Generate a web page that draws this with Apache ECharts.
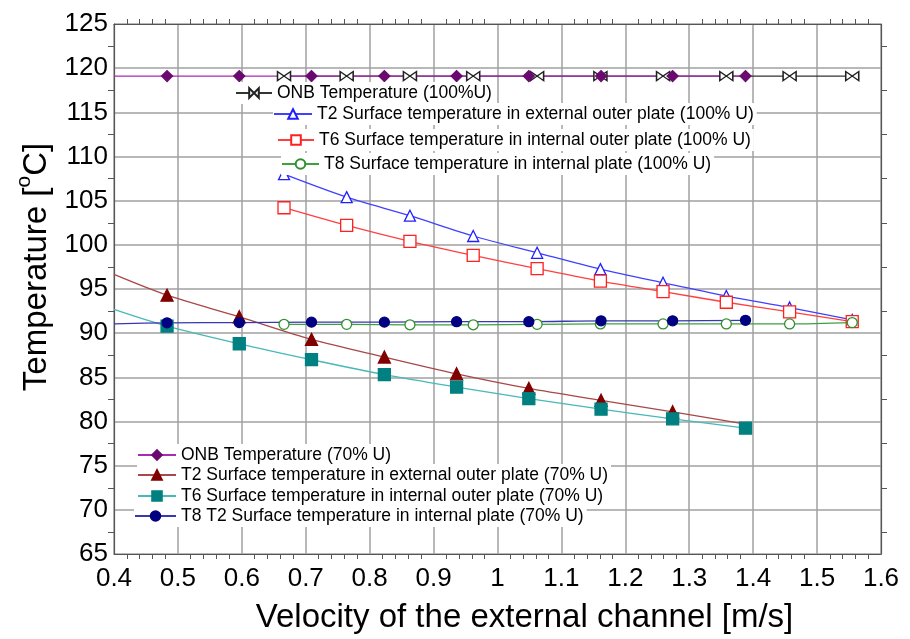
<!DOCTYPE html>
<html>
<head>
<meta charset="utf-8">
<script src="https://cdn.jsdelivr.net/npm/echarts@6/dist/echarts.min.js"></script>
<style>
  html, body { margin: 0; padding: 0; background: #fff; }
  #chart { width: 910px; height: 639px; }
</style>
</head>
<body>
<div id="chart"></div>
<script>
// velocities of the measured points [m/s]
const vel100 = [0.666, 0.764, 0.863, 0.962, 1.062, 1.161, 1.259, 1.358, 1.457, 1.555]
const vel70 = [0.483, 0.596, 0.709, 0.823, 0.936, 1.049, 1.162, 1.274, 1.388]

// 100% U
const onb100 = [119.1, 119.1, 119.1, 119.1, 119.1, 119.1, 119.1, 119.1, 119.1, 119.1]
const t2_100 = [108.0, 105.4, 103.3, 101.0, 99.1, 97.25, 95.7, 94.2, 92.9, 91.5]
const t6_100 = [104.2, 102.2, 100.4, 98.8, 97.3, 95.9, 94.7, 93.5, 92.4, 91.3]
const t8_100 = [91.0, 91.0, 90.95, 90.95, 91.0, 91.05, 91.05, 91.05, 91.05, 91.2]

// 70% U
const onb70 = [119.1, 119.1, 119.1, 119.1, 119.1, 119.1, 119.1, 119.1, 119.1]
const t2_70 = [94.3, 91.85, 89.3, 87.3, 85.4, 83.75, 82.4, 81.1, 79.7]
const t6_70 = [90.8, 88.8, 87.0, 85.3, 83.9, 82.6, 81.4, 80.3, 79.25]
const t8_70 = [91.17, 91.2, 91.25, 91.25, 91.3, 91.3, 91.4, 91.4, 91.45]
// fitted curves of the 70% series start at the left axis (0.4 m/s)
const start70 = { onb: 119.1, t2: 96.65, t6: 92.7, t8: 91.05 }

const names = [
  'ONB Temperature (100%U)',
  'T2 Surface temperature in external outer plate (100% U)',
  'T6 Surface temperature in internal outer plate (100% U)',
  'T8 Surface temperature in internal plate (100% U)',
  'ONB Temperature (70% U)',
  'T2 Surface temperature in external outer plate (70% U)',
  'T6 Surface temperature in internal outer plate (70% U)',
  'T8 T2 Surface temperature in internal plate (70% U)'
]

const axisFont = "'Liberation Sans', Arial, sans-serif"
const textFont = "'Liberation Sans', Arial, sans-serif"

function pts(xs, ys, start) {
  const out = xs.map((x, i) => [x, ys[i]])
  if (start !== undefined) out.unshift({ value: [0.4, start], symbol: 'none' })
  return out
}

const bowtie = 'path://M0,0 L0,10 L10,5 Z M20,0 L20,10 L10,5 Z'

function line(name, data, lineColor, symbol, size, fill, stroke) {
  return {
    type: 'line',
    name: name,
    data: data,
    smooth: 0.3,
    symbol: symbol,
    symbolSize: size,
    showAllSymbol: true,
    lineStyle: { color: lineColor, width: 1.3 },
    itemStyle: { color: fill, borderColor: stroke, borderWidth: 1.3 },
    emphasis: { disabled: true },
    z: 3
  }
}

const t2last = pts(vel70, t2_70, start70.t2)
t2last[t2last.length - 1] = { value: t2last[t2last.length - 1], symbol: 'none' }

const series = [
  line(names[0], pts(vel100, onb100), '#333', bowtie, [13, 9], '#fff', '#222'),
  line(names[1], pts(vel100, t2_100), '#4040ff', 'triangle', 11, '#fff', '#2020ff'),
  line(names[2], pts(vel100, t6_100), '#ff4040', 'rect', 12, '#fff', '#ff2020'),
  line(names[3], pts(vel100, t8_100), '#40a040', 'circle', 10, '#fff', '#309030'),
  line(names[4], pts(vel70, onb70, start70.onb), '#a82cb0', 'diamond', 11, '#6a0a70', '#6a0a70'),
  line(names[5], t2last, '#a84848', 'triangle', 12, '#800000', '#800000'),
  line(names[6], pts(vel70, t6_70, start70.t6), '#48b8b8', 'rect', 12, '#008080', '#008080'),
  line(names[7], pts(vel70, t8_70, start70.t8), '#3838b0', 'circle', 10, '#000080', '#000080')
]

// each legend row is placed on its own, like in the original figure
const legendRows = [
  { name: names[0], left: 235, mid: 93, w: 36 },
  { name: names[1], left: 273, mid: 114, w: 38 },
  { name: names[2], left: 277, mid: 140, w: 36 },
  { name: names[3], left: 281, mid: 164, w: 37 },
  { name: names[4], left: 137, mid: 455, w: 38 },
  { name: names[5], left: 137, mid: 475, w: 38 },
  { name: names[6], left: 137, mid: 496, w: 38 },
  { name: names[7], left: 134, mid: 516, w: 41 }
]
const legends = legendRows.map(r => ({
  data: [r.name],
  left: r.left,
  top: r.mid - 11,
  orient: 'horizontal',
  itemWidth: r.w,
  itemHeight: 12,
  itemGap: 0,
  padding: [2, 3, 2, 0],
  backgroundColor: '#fff',
  selectedMode: false,
  textStyle: { fontSize: 17.5, color: '#000', fontFamily: textFont }
}))

const gridLine = { show: true, lineStyle: { color: '#a0a0a0', width: 1.5 } }
const frame = { show: true, lineStyle: { color: '#555', width: 1.2 } }

const chart = echarts.init(document.getElementById('chart'))
chart.setOption({
  animation: false,
  backgroundColor: '#fff',
  legend: legends,
  grid: { left: 114, right: 29, top: 24, bottom: 85, containLabel: false },
  xAxis: [{
    type: 'value',
    min: 0.4,
    max: 1.6,
    interval: 0.1,
    name: 'Velocity of the external channel [m/s]',
    nameLocation: 'middle',
    nameGap: 47,
    nameTextStyle: { fontSize: 33, color: '#000', fontFamily: axisFont, padding: [0, 0, 0, 54] },
    axisLine: frame,
    axisTick: { show: false },
    minorTick: { show: true, splitNumber: 5, length: 5, lineStyle: { color: '#555' } },
    axisLabel: {
      fontSize: 26, color: '#000', margin: 12, fontFamily: axisFont,
      formatter: v => String(+v.toFixed(1))
    },
    splitLine: gridLine
  }, {
    type: 'value',
    position: 'top',
    min: 0.4,
    max: 1.6,
    interval: 0.1,
    axisLine: frame,
    axisTick: { show: false },
    minorTick: { show: true, splitNumber: 5, length: 5, lineStyle: { color: '#555' } },
    axisLabel: { show: false },
    splitLine: { show: false }
  }],
  yAxis: [{
    type: 'value',
    min: 65,
    max: 125,
    interval: 5,
    name: 'Temperature [{sup|o}C]',
    nameLocation: 'middle',
    nameGap: 55,
    nameTextStyle: {
      fontSize: 33, color: '#000', fontFamily: axisFont, padding: [0, 0, 0, 44],
      rich: { sup: { fontSize: 21, color: '#000', fontFamily: axisFont, padding: [0, 0, 24, 0] } }
    },
    axisLine: frame,
    axisTick: { show: false },
    minorTick: { show: true, splitNumber: 2, length: 6, lineStyle: { color: '#555' } },
    axisLabel: { fontSize: 26, color: '#000', margin: 6, fontFamily: axisFont },
    splitLine: gridLine
  }, {
    type: 'value',
    position: 'right',
    min: 65,
    max: 125,
    interval: 5,
    axisLine: frame,
    axisTick: { show: false },
    minorTick: { show: true, splitNumber: 2, length: 6, lineStyle: { color: '#555' } },
    axisLabel: { show: false },
    splitLine: { show: false }
  }],
  series: series
})
</script>
</body>
</html>
